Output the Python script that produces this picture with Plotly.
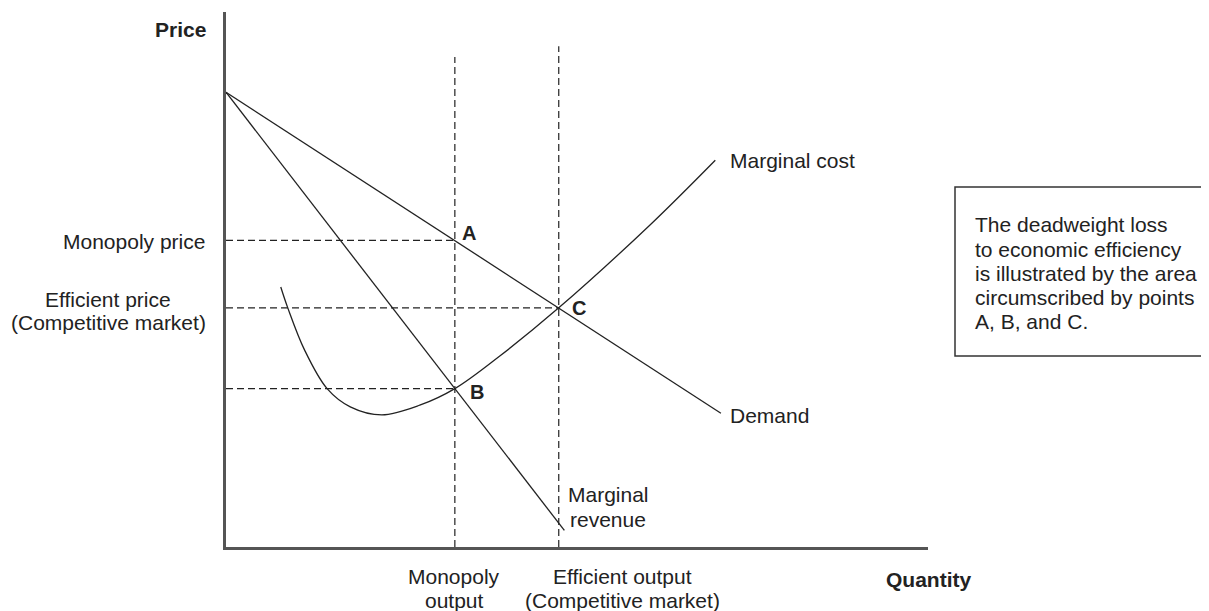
import plotly.graph_objects as go

# ---------------- data (quantity 0-100, price 0-100) ----------------
demand_q = [0, 70.5]
demand_p = [85, 25]

mr_q = [0, 48.2]
mr_p = [85, 3.1]

mc_q = [7.8, 8.8, 11.2, 14.4, 17.7, 22.2, 27.6, 32.6, 39.0, 47.4, 60.4, 69.7]
mc_p = [48.6, 44.7, 36.8, 29.6, 26.2, 24.7, 26.5, 29.6, 35.7, 44.7, 60.2, 72.3]

q_monopoly = 32.6
q_efficient = 47.4
p_monopoly = 57.3
p_efficient = 44.7
mc_at_qm = 29.6
guide_top = [91.6, 93.6]

point_labels = ["A", "B", "C"]
curve_labels = ["Marginal cost", "Demand", ["Marginal", "revenue"]]
price_labels = ["Monopoly price", ["Efficient price", "(Competitive market)"]]
qty_labels = [["Monopoly", "output"], ["Efficient output", "(Competitive market)"]]
axis_titles = ["Price", "Quantity"]
note_lines = ["The deadweight loss", "to economic efficiency",
              "is illustrated by the area", "circumscribed by points",
              "A, B, and C."]

# ---------------- layout geometry (reference pixel frame) ----------------
OFF = 8                      # page body margin offset
W, H = 1209 - OFF, 611 - OFF
L, R, T, B = 226, 928, 12, 547
FONT = "Liberation Sans, Arial, Helvetica, sans-serif"
INK = "#222222"
FS = 21


def px(xp):
    return (xp - L) / (R - L)


def py(yp):
    return (B - yp) / (B - T)


fig = go.Figure()
line_style = dict(color=INK, width=1.3)
dash_style = dict(color=INK, width=1.2, dash="7px,4px")

# dashed guides
fig.add_trace(go.Scatter(x=[0, q_monopoly], y=[p_monopoly, p_monopoly], mode="lines", line=dash_style))
fig.add_trace(go.Scatter(x=[0, q_efficient], y=[p_efficient, p_efficient], mode="lines", line=dash_style))
fig.add_trace(go.Scatter(x=[0, q_monopoly], y=[mc_at_qm, mc_at_qm], mode="lines", line=dash_style))
fig.add_trace(go.Scatter(x=[q_monopoly, q_monopoly], y=[0, guide_top[0]], mode="lines", line=dash_style))
fig.add_trace(go.Scatter(x=[q_efficient, q_efficient], y=[0, guide_top[1]], mode="lines", line=dash_style))

# curves
fig.add_trace(go.Scatter(x=demand_q, y=demand_p, mode="lines", line=line_style))
fig.add_trace(go.Scatter(x=mr_q, y=mr_p, mode="lines", line=line_style))
fig.add_trace(go.Scatter(x=mc_q, y=mc_p, mode="lines",
                         line=dict(color=INK, width=1.3, shape="spline", smoothing=1.0)))

ann = []


def text(x, y, s, xanchor="center", bold=False, size=FS):
    ann.append(dict(x=x, y=y, xref="paper", yref="paper",
                    text=f"<b>{s}</b>" if bold else s, showarrow=False,
                    xanchor=xanchor, yanchor="middle",
                    font=dict(family=FONT, size=size, color=INK)))


# axis titles
text(px(208), py(29), axis_titles[0], xanchor="right", bold=True)
text(px(928), py(579), axis_titles[1], bold=True)

# price labels
text(px(207), py(241), price_labels[0], xanchor="right")
text(px(108), py(299), price_labels[1][0])
text(px(108), py(322), price_labels[1][1])

# quantity labels
text(px(454), py(576), qty_labels[0][0])
text(px(454), py(600), qty_labels[0][1])
text(px(622), py(576), qty_labels[1][0])
text(px(622), py(600), qty_labels[1][1])

# curve labels
text(px(728), py(160), curve_labels[0], xanchor="left")
text(px(728), py(415), curve_labels[1], xanchor="left")
text(px(608), py(495), curve_labels[2][0])
text(px(608), py(519), curve_labels[2][1])

# point labels
text(px(469), py(233), point_labels[0], bold=True, size=20)
text(px(477), py(392), point_labels[1], bold=True, size=20)
text(px(579), py(308), point_labels[2], bold=True, size=20)

# note box
note_y = [224, 249, 273, 297, 321]
for s, yy in zip(note_lines, note_y):
    text(px(973), py(yy), s, xanchor="left")

fig.add_shape(type="rect", xref="paper", yref="paper",
              x0=px(955), x1=px(1216), y0=py(356), y1=py(187),
              line=dict(color="#333333", width=1.5), fillcolor="rgba(0,0,0,0)")

fig.update_layout(
    width=W, height=H,
    margin=dict(l=L - OFF, r=W - (R - OFF), t=T - OFF, b=H - (B - OFF), pad=0),
    paper_bgcolor="white", plot_bgcolor="white",
    showlegend=False,
    annotations=ann,
    xaxis=dict(range=[0, 100], showgrid=False, zeroline=False, showticklabels=False,
               ticks="", showline=True, linecolor="#555555", linewidth=2.5),
    yaxis=dict(range=[0, 100], showgrid=False, zeroline=False, showticklabels=False,
               ticks="", showline=True, linecolor="#555555", linewidth=2.5),
)

fig.write_html("out.html")
